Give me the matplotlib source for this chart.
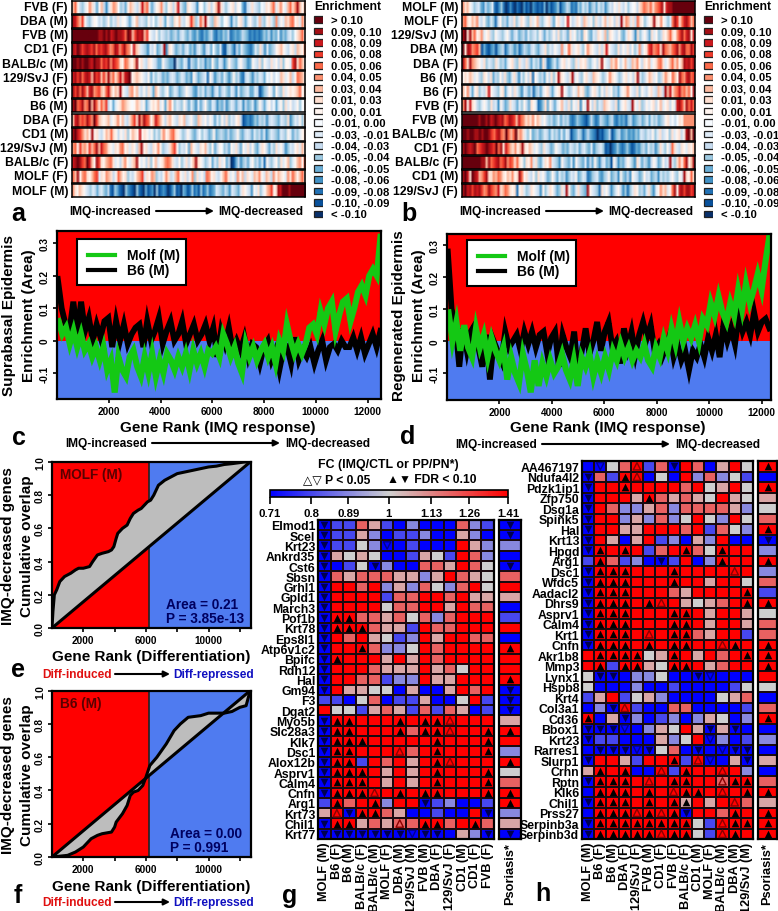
import matplotlib
matplotlib.use('Agg')
import matplotlib.pyplot as plt
from matplotlib.colors import LinearSegmentedColormap, LogNorm, to_rgb
from matplotlib.cm import ScalarMappable
from matplotlib.patches import FancyArrowPatch, Rectangle
import numpy as np

W, H = 778, 912

plt.rcParams['font.family'] = ['Liberation Sans', 'DejaVu Sans']
plt.rcParams['font.weight'] = 'bold'
plt.rcParams['axes.linewidth'] = 1.6

# strip heatmaps: a = below -0.10 ... r = above 0.10
enrich_colors = ['#08306b', '#08519c', '#2171b5', '#4292c6', '#6baed6', '#9ecae1', '#c6dbef', '#deebf7', '#f7fbff',
                 '#fff5f0', '#fee0d2', '#fcbba1', '#fc9272', '#fb6a4a', '#ef3b2c', '#cb181d', '#a50f15', '#67000d']
enrich_labels = ['> 0.10', '0.09, 0.10', '0.08, 0.09', '0.06, 0.08', '0.05, 0.06', '0.04, 0.05', '0.03, 0.04',
                 '0.01, 0.03', '0.00, 0.01', '-0.01, 0.00', '-0.03, -0.01', '-0.04, -0.03', '-0.05, -0.04',
                 '-0.06, -0.05', '-0.08, -0.06', '-0.09, -0.08', '-0.10, -0.09', '< -0.10']

a_names = ['FVB (F)', 'DBA (M)', 'FVB (M)', 'CD1 (F)', 'BALB/c (M)', '129/SvJ (F)', 'B6 (F)', 'B6 (M)', 'DBA (F)',
           'CD1 (M)', '129/SvJ (M)', 'BALB/c (F)', 'MOLF (F)', 'MOLF (M)']
a_strips = [
    'lnjgfhjmkhejlgdhkmlifgejlkhgkplnhegjkmhfjkgkphfekjhgdjifhkgjlqkhfhjkgjiecghkhgfihkjlnhkmjhlnkmqljl',
    'qpnlojgfhjighfgjfhgkhjigehjlghgfjgifhkhejgfkjlhgjkolfhnkqjgflkhfijgdhfjkgehjgfhlgfjkhfmgjhlkmnjkhmk',
    'rrrrrrrrrrrqqrqrpqrqqpnrqloqpqlojhgjfhgfgefgeghfegedfdcedfgdcedfegcdedegfecdcdcdfegdfehdfeghfiklnj',
    'qprqopqpoqnpopqomnqpmoqnmjplkhgfdhgjefhqdkjgefgeghefdghfdgheifehcbfgecgehfedcehfkgdhefgjkljhgjkglkjm',
    'rrqrqrrqprqqnpoqmponkjnmkjlqjkhgkjhgeejgfeeagfehgcgfehfgdfejfehgdfjgfehjgfdejhgkfjhgkhjgkfjjhoqknlj',
    'pqoqnpqplqoplolqlnkmplpqrjklkjhgjehfhgefeghgefhgefdjgefghcjgdfgehfdfjfgdcghfdgfhgeihjgihlkhjlgjnmlj',
    'qoqnqolpqmnolknpljlkqjhglmjlhgjgkheljgfhjefhgefgjhgedgfhegfdgheghfehgdhefgheehgbdfgjhejgfkhjkjklnjk',
    'qrnoqmnrlqnknlogiehjkmlkjijlkhjegjkjlhjekmjfhgfjgehfdhegjfehgdfegdfhgeghdgefhdfjgehjgiehjfkhjghjfij',
    'lpqnonqomrolkjklhjkmjlhgkmokqmqonjlpnljgkljhgkjlghjgflkhjgjhehfjgkfhgjkgbcdcdfegfgdghgfehgfkdfhgjfk',
    'qrpomkljqjkhgjlknkjgjhkfjlkjpjkjhjfhfkmjkmnkjhfgjhfegifhgefjefgfegefgjfeghgehfgehdfhgfehgfjhegfhjk',
    'mnjolmkolnqlpnmkjhkjmnjkhkjglqjkhgkjmjfghkmojfhgjeljhgkjlhfjegjifgejhkgejhkgjfehkjgehfkhjgdfhgjkhlj',
    'pqrqonrpljqokjlmnkhjgkmjhklqjhjgkfjlhjkmnmkhgjfhkgjlqkjhfgjehfkhjegabegdfgehjfgehcjgfhjfkhjlfhjlmjn',
    'nlqjmnkjlnohkjmlkgjnljkfhgjlmohkjmlfhgjmkghlnjhkgjmfkhjgnmjkhgjlnkhjgmjlgkjhlkmjhlkgmjlkjhmknljlnk',
    'mkjlkjhgfhgeghfegcbfecbafdcbafcbaebcdafbcdcabdfbcaedbcfcdbfcdfcdehgfegfdhgfehkjhgdjhkfhjlmojkqprrrqrrrrrrr',
]

b_names = ['MOLF (M)', 'MOLF (F)', '129/SvJ (M)', 'DBA (M)', 'DBA (F)', 'B6 (M)', 'B6 (F)', 'FVB (F)', 'FVB (M)',
           'BALB/c (M)', 'CD1 (F)', 'BALB/c (F)', 'CD1 (M)', '129/SvJ (F)']
b_strips = [
    'mkljhfghedgefhcbdfcabdbacbadbcadcbcbeadbcdfbdegfcdcfehfgdfgehfgdfhgjhkhgjfhijgklnmlnkmnoqkpqqrrrrrrrrrr',
    'mnkjlkmhgjfehfcgjfgehgkfhkjgfkhjlgfhjkgejkhgjpjghkjglkhjfkhgjlhkjgkhqjmlhkgnkjfhjkqkjmjhfhnqoknpqoln',
    'qrkqlnjkmhjkgfjhgfhjgeghefgehfghfjgehfgjgkfhgekhjfgekjfehgkjhlfkjhgjfehkjgdkfhjgekhjfgkjlnkjmoqnpqkp',
    'rkqpmnolbecbdebefgcegfdfcegfeghfeghkfhgjhgmhjnkhjkhfjmkjhgkgkpjhgfkgjhkgjfhmgjkopmnokqnmlnoqmpqnnqo',
    'qnkqmlkjhkfhgfkhfgehjkgfkhgkgehfgdkgcdfhegjkhjgfkhkjkgfhjgkqjhglkmjgjlhglkmjgkjlhjkmnkhjlnkmjlqpqoq',
    'jkjlkhjgfkjgkegfjgkfehkgdhfjgkcjhfgejgkfjqkjhgkqhjgfjkhglkjhfgjmkjhfgjkhjgkqhfgjlkhjfgkmkjnljqnmpqno',
    'ljmhejkfhgkpjhgfjkehjgkhfdhgegcfgehjkgehjkqjhfgjhljkfegjkhfjgkhjfgehjkmjhgkfjhgjkhglkgqlpkmnpmnlnjq',
    'mqjpkjgfhjhfkghdjgefkhgehfjgekjhcdfkejgehjlhgkfjhkdjhqjgkfhglkjhgkehjkhgqjhkfgjhjkgjlhjkgjhpqolqnpn',
    'rrrrrrrqrrqrpqrqpqnoqpolpnmklkmjlkhjgfgefhegfgdcdfedcbdgecdgfedfgdcedecfgdefgefhehfgefgjkhigikjmmmmm',
    'rrqrrqqrqrrqonpqnmrnlnrlmkhfjefgefhgehfgehehgbdegfcegedcacbdegbdfgdefdedfehgfhgjfhkghjfkhjkgjqrlr',
    'qrqpqrnopqrqpornqkpnlkmjlqkjlkhjgfkhgefjhgefehgfheghfehdfghfbcacdfdcdfdbcedfgehfgdfkhfjgnkhgkjhkjl',
    'rrrrrrrrqqlqnopqnoqmonknkjfkjmhkfehkjmhgfdjgfehdjgfehdgejfdghefbjgdfegjhfdkhegfdgjhefjghqhfkmjnqjlq',
    'qrpkrqplmoqkkmlnmkjlkmjkqnjkhgjfkhjgefjgehfgdfhgjefhgcdfghedfgjefgdjfegdjhgefjghefgdhfgfhjgfjhqkjnk',
    'qrpqoqpqomnqonmpklnmkjkcjkhfgkjhgdjfhkjgefkhqjfehkgfeqjhgfckhjgdfhjgdfcfhkjfgehkfdhjmklhjnqjpqoqqop',
]

# running enrichment, one value per rank bin
c_b6 = [0.19, 0.10, 0.05, 0.03, 0.12, 0.02, 0.12, 0.03, 0.07, 0.0, 0.05, 0.01, 0.06, 0.07, -0.02, 0.06, 0.0, 0.05,
        -0.01, 0.02, 0.04, 0.05, -0.02, 0.06, 0.0, 0.03, 0.07, -0.01, 0.03, 0.06, 0.0, 0.02, 0.06, -0.01, 0.02, 0.05,
        0.0, 0.02, 0.05, 0.0, 0.04, -0.05, 0.03, -0.01, 0.04, -0.03, 0.0, -0.03, 0.01, -0.05, -0.01, -0.02, -0.07,
        -0.02, 0.0, -0.06, -0.03, -0.09, -0.03, -0.02, -0.07, 0.01, -0.06, -0.03, -0.05, -0.02, -0.07, -0.03, 0.0,
        -0.06, -0.02, -0.01, -0.03, 0.0, -0.02, -0.02, 0.01, -0.03, 0.01, -0.04, -0.01, 0.02, -0.02, 0.03]
c_molf = [0.06, 0.02, 0.04, -0.01, 0.03, -0.02, 0.02, -0.03, -0.01, -0.05, -0.02, -0.06, -0.02, -0.09, -0.06, -0.16,
          -0.05, -0.09, -0.11, -0.05, -0.03, -0.08, -0.11, -0.05, -0.10, -0.04, -0.11, -0.06, -0.10, -0.04, -0.06,
          -0.09, -0.05, -0.08, -0.04, -0.09, -0.03, -0.07, -0.04, -0.08, -0.03, -0.04, -0.02, -0.05, 0.02, -0.01,
          -0.05, -0.02, -0.07, -0.10, -0.01, -0.05, -0.02, -0.06, -0.03, -0.01, -0.05, -0.02, -0.07, 0.0, -0.03, 0.05,
          0.0, -0.04, -0.01, -0.04, -0.01, 0.04, 0.05, 0.02, 0.09, 0.05, 0.10, 0.12, 0.03, 0.08, 0.12, 0.13, 0.06, 0.10,
          0.15, 0.17, 0.14, 0.20, 0.22, 0.20, 0.32]
d_b6 = [0.28, 0.10, 0.05, -0.08, 0.04, -0.03, 0.03, 0.05, -0.02, -0.08, 0.02, -0.12, 0.0, -0.03, -0.06, 0.03, -0.02,
        0.0, 0.02, -0.03, 0.03, -0.01, 0.03, -0.02, 0.02, 0.03, -0.04, 0.01, 0.03, -0.08, 0.02, -0.02, -0.05, 0.03,
        -0.10, -0.03, 0.04, -0.04, 0.0, 0.06, -0.03, 0.03, 0.06, -0.02, 0.0, -0.07, 0.04, -0.02, 0.03, -0.04, 0.02,
        0.06, 0.01, 0.05, -0.03, -0.01, -0.05, -0.02, 0.02, -0.05, -0.01, -0.06, -0.03, -0.09, -0.03, -0.05, -0.01,
        -0.05, 0.01, -0.03, 0.02, -0.05, 0.05, 0.0, 0.04, -0.01, 0.08, 0.03, 0.06, 0.02, 0.09, 0.03, 0.06, 0.07, 0.04]
d_molf = [0.09, 0.0, 0.06, -0.03, 0.05, -0.02, -0.05, 0.04, -0.02, 0.02, -0.05, 0.01, -0.03, -0.06, -0.02, -0.12,
          -0.05, -0.10, -0.13, -0.04, -0.09, -0.16, -0.06, -0.14, -0.07, -0.11, -0.06, -0.10, -0.08, -0.04, -0.09,
          -0.12, -0.06, -0.14, -0.05, -0.08, -0.04, -0.11, -0.06, -0.10, -0.05, -0.09, -0.03, -0.06, -0.01, -0.05,
          -0.02, -0.06, -0.03, -0.05, -0.01, -0.06, -0.08, -0.02, -0.05, 0.01, -0.03, 0.04, -0.01, 0.06, 0.0, 0.04, 0.01,
          0.05, 0.0, 0.07, 0.05, 0.12, 0.08, 0.14, 0.09, 0.06, 0.12, 0.08, 0.16, 0.10, 0.18, 0.12, 0.16, 0.21, 0.16, 0.25, 0.33]

# cumulative overlap curves
e_rank = [0, 60, 150, 300, 500, 700, 800, 1000, 1200, 1500, 1700, 2000, 2400, 2600, 2900, 3200, 3600, 3800, 3950, 4100,
          4200, 4500, 4800, 5000, 5200, 5500, 5700, 6100, 6300, 6500, 6800, 7200, 7600, 8000, 8500, 9000, 9500, 10000,
          10500, 11000, 11500, 12300, 12660]
e_overlap = [0, 0.10, 0.20, 0.23, 0.28, 0.30, 0.31, 0.32, 0.33, 0.35, 0.36, 0.36, 0.37, 0.40, 0.44, 0.45, 0.46, 0.47,
             0.49, 0.54, 0.57, 0.60, 0.62, 0.66, 0.69, 0.71, 0.72, 0.76, 0.77, 0.80, 0.86, 0.89, 0.91, 0.93, 0.94, 0.95,
             0.96, 0.97, 0.975, 0.985, 0.99, 1.0, 1.0]
f_rank = [0, 1000, 1500, 2000, 2300, 2500, 2900, 3200, 3800, 4000, 4100, 4500, 4800, 5000, 5200, 5500, 5800, 6000, 6250,
          6700, 7000, 7300, 7800, 8200, 8700, 9500, 10000, 11000, 11500, 12000, 12400, 12660]
f_overlap = [0, 0.01, 0.03, 0.06, 0.09, 0.11, 0.13, 0.14, 0.15, 0.18, 0.21, 0.26, 0.31, 0.37, 0.39, 0.40, 0.43, 0.48, 0.55,
             0.60, 0.64, 0.68, 0.76, 0.80, 0.84, 0.85, 0.865, 0.865, 0.875, 0.90, 0.91, 1.0]

# fold change levels of the heat maps
fc_levels = {'B': 0.71, 'm': 0.80, 'l': 0.89, 'g': 1.0, 'p': 1.07, 'r': 1.2, 'R': 1.41}
fc_ticks = [0.71, 0.8, 0.89, 1, 1.13, 1.26, 1.41]

g_genes = ['Elmod1', 'Scel', 'Krt23', 'Ankrd35', 'Cst6', 'Sbsn', 'Grhl1', 'Gpld1', 'March3', 'Pof1b', 'Krt78', 'Eps8l1',
           'Atp6v1c2', 'Bpifc', 'Rdh12', 'Hal', 'Gm94', 'F3', 'Dgat2', 'Myo5b', 'Slc28a3', 'Klk7', 'Dsc1', 'Alox12b',
           'Asprv1', 'Calm4', 'Cnfn', 'Arg1', 'Krt73', 'Chil1', 'Krt77']
g_strains = ['MOLF (M)', 'B6 (F)', 'B6 (M)', 'BALB/c (F)', 'BALB/c (M)', 'MOLF (F)', 'DBA (M)', '129/SvJ (M)', 'FVB (M)',
             'DBA (F)', '129/SvJ (F)', 'CD1 (M)', 'CD1 (F)', 'FVB (F)']
# 14 strains, then psoriasis
g_fc = ['BmmrpmBlBBBrlmB', 'BmmplBmmlBBplBB', 'BmmglBBmBBBRpll', 'BpgpgBBmpgmRrlB', 'BBmgBlBBrrpRrgB', 'BrprrrpplpRrpgr',
        'BRRrRlplrglrRgR', 'BRRRRmrrRRrRppp', 'BRRRRgrrRRpRrrB', 'BRRrrprgrlrRRRm', 'BRRRrppmRrrRRRR', 'BRrRpgmlRpRRrrB',
        'BRRRrllgRrRRRRR', 'BRRRRpRpRrRRRRR', 'BRRRrpppRprgRRR', 'BRRrrmllRppRRRR', 'BRppggBpBBpRrRB', 'mmBgrBmmpBBgRmB',
        'RggmprpmrmrpBmB', 'BRRRRRRRRRRRRRp', 'BRRRRRRrRRRRRRR', 'BRRRRRRRRRRRRRR', 'BRRRRRRrRRRRRRl', 'BRRmRrRpRRRRRRR',
        'BRRRRpRpRRRRRRg', 'BRRRRpRpRRRRRRr', 'BRRRRRRRRRRRRRR', 'mRrRRlRRBmlBBmR', 'pRBRRrpBBmBBRBl', 'BRRprprrRRrRRrp',
        'BBBBBBBBBBBplBB']
g_sig = ['D.............D', 'D.............D', 'D....d.........', 'D..............', 'D...D.........D', 'D..............',
         'D..............', 'D..............', 'D..............', 'DUU............', 'DUUU...........', 'D..............',
         'D..U..........U', 'DU.............', 'D..............', 'D.............U', 'D.............D', '..............D',
         '..............D', 'DUU...U.UUu....', 'DUU...U.UUu..UU', 'DUUU.....U...U.', 'DUU...u..U...U.', 'DUU......Uu...U',
         'DUUU.....U...U.', 'DUUU.....U...U.', 'DUUUu.U.UU...UU', '.U..U...D.....U', '.uDUU........D.', 'DUU...u.UU..U..',
         'DDDDDDDdDD...DD']

h_genes = ['AA467197', 'Ndufa4l2', 'Pdzk1ip1', 'Zfp750', 'Dsg1a', 'Spink5', 'Hal', 'Krt13', 'Hpgd', 'Arg1', 'Dsc1', 'Wfdc5',
           'Aadacl2', 'Dhrs9', 'Asprv1', 'Calm4', 'Krt1', 'Cnfn', 'Akr1b8', 'Mmp3', 'Lynx1', 'Hspb8', 'Krt4', 'Col3a1', 'Cd36',
           'Bbox1', 'Krt23', 'Rarres1', 'Slurp1', 'Crnn', 'Rptn', 'Klk6', 'Chil1', 'Prss27', 'Serpinb3a', 'Serpinb3d']
h_strains = ['MOLF (M)', 'B6 (F)', 'B6 (M)', 'DBA (F)', '129/SvJ (F)', 'FVB (M)', 'CD1 (F)', 'FVB (F)', 'BALB/c (F)',
             'CD1 (M)', 'MOLF (F)', 'BALB/c (M)', 'DBA (M)', '129/SvJ (M)']
h_fc = ['BBgrRmrBRrBpRgR', 'BrmRRBgBRlrlgmB', 'BRRRRRRRrRgpRgR', 'BRRRpRrprpgRpgp', 'BRrllprlrrrrplg', 'BRRlplrlgRglRgr',
        'BRRppRRRrRmrglR', 'BRpBpRmlBplRBBB', 'BRRRRmrRRrgRRRl', 'mRrmlBBmRBlRRRR', 'BRRRRRRRRRRRRRl', 'BRRRRRRRRRpRRgr',
        'BRRRRRRrpRRRRRm', 'BRRRRRRRpgprRRR', 'BRRRRRRRRRpRRpg', 'BRRRRRRRRRpRRpr', 'BRRRRRRRRrpRRmr', 'BRRRRRRRRRRRRRR',
        'RRRRRgpRRpRrRRR', 'RRmRRpgRRRprRRR', 'gBBBllgBBBBBBBR', 'gBBBlBBmBBBBmgg', 'mpRmgplBBBBgprB', 'BlBRmBBrrBBBBmr',
        'RBpBlBmlBlpgBlR', 'BBBBBlpgRpBpBBB', 'BmmBBBplgRBlBml', 'BBBBBBgrBBBBBBB', 'BRRpmRRRmRBBpBp', 'pRRRBBRmRRRRRlB',
        'BRRRRRRRRRRrRRr', 'BRRRRRRRRRRRRRR', 'BRRRRRRRpRpRRrp', 'BRRRRRRRBRRrRRR', 'BRRRRRRRRgmRRRR', 'BRRRRRRRRgmRRRR']
h_sig = ['.d..u..D......U', 'D..Uu..........', 'D..U..........U', 'D....U.........', 'D..............', 'D..............',
         'D.............U', 'D.............D', 'DU.U....U..U...', '.U....D....U..U', 'DUUU...U....u..', 'DUUU...U.......',
         'DUUU.........U.', 'DUUU.Uu......UU', 'DUUU...UU......', 'DUUU...UU......', 'DUUU.u.UU......', 'DUUU.U.UU..uU.U',
         '.UUUU..U.....UU', '.U.UU..UU.....U', '.DD......Dd....', '...............', '...............', '..Du...........',
         'U..D..........U', 'DDDd......D.D..', 'D.........d....', '.DDDdD...D.dDD.', 'D......U.ud..D.', '.U.U..u.U..u...',
         'DUUU.u.UU..uUU.', '.UUU.U.uUU.u.UU', 'DUUU.U.UU...u..', '.UUUuUuUD...U.U', 'DUUUUUUUU..uUUU', 'DUUUUUuUU..uU.U']

fig = plt.figure(figsize=(W / 100, H / 100), dpi=100, facecolor='white')


def ax_px(x0, y0, x1, y1, **kw):
    return fig.add_axes([x0 / W, 1 - y1 / H, (x1 - x0) / W, (y1 - y0) / H], **kw)


def txt(x, y, s, size=9, ha='left', va='center', rot=0, color='black', **kw):
    return fig.text(x / W, 1 - y / H, s, fontsize=size, ha=ha, va=va, rotation=rot, color=color, **kw)


def arrow(x0, x1, y):
    fig.add_artist(FancyArrowPatch((x0 / W, 1 - y / H), (x1 / W, 1 - y / H), transform=fig.transFigure,
                                   arrowstyle='-|>', mutation_scale=9, lw=1.5, color='black', shrinkA=0, shrinkB=0))


def strip_panel(names, strips, x0, x1):
    rgb = {chr(ord('a') + i): to_rgb(c) for i, c in enumerate(enrich_colors)}
    for i, (name, s) in enumerate(zip(names, strips)):
        y = 1.7 + i * 14.1
        ax = ax_px(x0, y, x1, y + 13)
        ax.imshow(np.array([[rgb[c] for c in s]]), aspect='auto', interpolation='bilinear')
        ax.set_xticks([])
        ax.set_yticks([])
        for sp in ax.spines.values():
            sp.set_linewidth(1.1)
        txt(x0 - 4, y + 6.5, name, size=8.8, ha='right')
    # legend
    txt(x1 + 43, 7, 'Enrichment', size=8.7, ha='center')
    ax = ax_px(x1 + 8, 15, x1 + 18, 221)
    ax.set_xlim(0, 1)
    ax.set_ylim(221, 15)
    ax.axis('off')
    for i, lab in enumerate(enrich_labels):
        yc = 20.7 + i * 11.43
        ax.add_patch(Rectangle((0.05, yc - 3.3), 0.9, 6.6, fc=enrich_colors[17 - i], ec='#222222', lw=0.9))
        txt(x1 + 26, yc, lab, size=8.1)
    txt(x0 - 3, 212, 'IMQ-increased', size=8.6)
    arrow(x0 + 84, x0 + 142, 212)
    txt(x0 + 146, 212, 'IMQ-decreased', size=8.6)


strip_panel(a_names, a_strips, 72, 305)
strip_panel(b_names, b_strips, 462, 695)
txt(18, 214, 'a', size=18, ha='center')
txt(409, 214, 'b', size=18, ha='center')


def enrich_panel(x0, y0, x1, y1, b6, molf, xmax, ylim, xend, legend_y):
    ax = ax_px(x0, y0, x1, y1)
    ax.set_xlim(0, xmax)
    ax.set_ylim(*ylim)
    ax.axhspan(0, ylim[1], color='#ff0000', lw=0)
    ax.axhspan(ylim[0], 0, color='#4f7bf0', lw=0)
    ax.plot(np.linspace(30, xend, len(b6)), b6, color='black', lw=4.2, solid_joinstyle='miter')
    ax.plot(np.linspace(60, xend, len(molf)), molf, color='#14c814', lw=4.4, solid_joinstyle='miter')
    ax.set_xticks(range(2000, 12001, 2000))
    ax.set_yticks([-0.1, 0, 0.1, 0.2, 0.3])
    ax.set_yticklabels(['-0.1', '0', '0.1', '0.2', '0.3'])
    ax.tick_params(labelsize=7.2, width=1.2, length=3, pad=2)
    for t in ax.get_yticklabels():
        t.set_rotation(90)
        t.set_va('center')
    ax.add_patch(Rectangle((20 / (x1 - x0), 1 - (legend_y + 46 - y0) / (y1 - y0)), 109 / (x1 - x0),
                           46 / (y1 - y0), transform=ax.transAxes, fc='white', ec='black', lw=1.5, zorder=5))
    for dy, col, lab in [(16, '#14c814', 'Molf (M)'), (31, 'black', 'B6 (M)')]:
        yy = 1 - (legend_y + dy - y0) / (y1 - y0)
        ax.plot([31 / (x1 - x0), 58 / (x1 - x0)], [yy, yy], color=col, lw=3, transform=ax.transAxes, zorder=6)
        ax.text(70 / (x1 - x0), yy, lab, transform=ax.transAxes, fontsize=10, va='center', zorder=6)
    return ax


enrich_panel(57, 232, 381, 400, c_b6, c_molf, 12520, (-0.18, 0.338), 12500, 240)
enrich_panel(447, 235, 771, 400.7, d_b6, d_molf, 12360, (-0.183, 0.335), 12300, 241)
txt(9, 316, 'Suprabasal Epidermis', size=11, ha='center', rot=90)
txt(29, 316, 'Enrichment (Area)', size=11, ha='center', rot=90)
txt(399, 316, 'Regenerated Epidermis', size=11, ha='center', rot=90)
txt(419, 316, 'Enrichment (Area)', size=11, ha='center', rot=90)
txt(218, 428, 'Gene Rank (IMQ response)', size=11, ha='center')
txt(608, 428, 'Gene Rank (IMQ response)', size=11, ha='center')
txt(19, 438, 'c', size=18, ha='center')
txt(408, 437, 'd', size=18, ha='center')
txt(65, 444, 'IMQ-increased', size=8.6)
arrow(152, 280, 444)
txt(285, 444, 'IMQ-decreased', size=8.6)
txt(455, 445, 'IMQ-increased', size=8.6)
arrow(542, 670, 445)
txt(675, 445, 'IMQ-decreased', size=8.6)


def overlap_panel(y0, y1, rank, overlap, name, area, pval, text_x):
    ax = ax_px(52, y0, 251, y1)
    gene_n = 12660
    ax.set_xlim(0, 12713)
    ax.set_ylim(0, 1)
    ax.axvspan(0, 6218, color='#ff0000', lw=0)
    ax.axvspan(6218, 12713, color='#4f7bf0', lw=0)
    ax.axvline(6218, color='#222222', lw=1.2)
    xs = np.arange(0, gene_n + 1, 20)
    ys = np.interp(xs, rank, overlap)
    ax.fill_between(xs, ys, xs / gene_n, color='#bdbdbd', lw=0, zorder=2)
    ax.plot([0, gene_n], [0, 1], color='black', lw=2.2, zorder=3)
    ax.plot(rank, overlap, color='black', lw=2.2, zorder=3)
    ax.set_xticks(range(2000, 12001, 2000))
    ax.set_xticklabels(['2000', '', '6000', '', '10000', ''])
    ax.set_yticks([0, 0.2, 0.4, 0.6, 0.8, 1.0])
    ax.tick_params(labelsize=7.2, width=1.2, length=3, pad=2)
    for t in ax.get_yticklabels():
        t.set_rotation(90)
        t.set_va('center')
    ax.text(0.04, 0.925, name, transform=ax.transAxes, color='#5a0000', fontsize=9.8, va='center')
    ax.text(text_x, 0.145, area, transform=ax.transAxes, color='#000060', fontsize=9.8, va='center')
    ax.text(text_x, 0.06, pval, transform=ax.transAxes, color='#000060', fontsize=9.8, va='center')
    return ax


overlap_panel(463, 629, e_rank, e_overlap, 'MOLF (M)', 'Area = 0.21', 'P = 3.85e-13', 0.575)
overlap_panel(691.7, 858, f_rank, f_overlap, 'B6 (M)', 'Area = 0.00', 'P = 0.991', 0.595)
for yc, yx, yd in [(546, 657, 675), (775, 887, 903)]:
    txt(8, yc, 'IMQ-decreased genes', size=11, ha='center', rot=90)
    txt(27, yc, 'Cumulative overlap', size=11, ha='center', rot=90)
    txt(151, yx, 'Gene Rank (Differentiation)', size=11, ha='center')
    txt(42, yd, 'Diff-induced', size=8.6, color='#e01010')
    arrow(115, 170, yd)
    txt(173, yd, 'Diff-repressed', size=8.6, color='#1010c0')
txt(18, 670, 'e', size=18, ha='center')
txt(18, 896, 'f', size=18, ha='center')

# fold change colour bar
fc_cmap = LinearSegmentedColormap.from_list('fc', ['#0000ff', '#cfcfcf', '#ff0000'])
fc_norm = LogNorm(0.71, 1.41)
cax = ax_px(270, 491, 508, 498)
cb = fig.colorbar(ScalarMappable(norm=fc_norm, cmap=fc_cmap), cax=cax, orientation='horizontal')
cb.set_ticks(fc_ticks)
cb.set_ticklabels(['0.71', '0.8', '0.89', '1', '1.13', '1.26', '1.41'])
cb.minorticks_off()
cax.tick_params(labelsize=8.2, width=1.2, length=5, pad=3)
cb.outline.set_linewidth(1.2)
txt(388, 465, 'FC (IMQ/CTL or PP/PN*)', size=8.9, ha='center')
txt(303, 480, '△▽ P < 0.05', size=8.7)
txt(387, 480, '▲▼ FDR < 0.10', size=8.7)


def sig_marks(ax, fc_rows, sig_rows):
    for r, (lv, sg) in enumerate(zip(fc_rows, sig_rows)):
        for c, m in enumerate(sg[:len(lv)]):
            if m == '.':
                continue
            blue = lv[c] in 'Bm'
            dark = '#000050' if blue else 'black'
            edge = '#000090' if blue else '#8a0000'
            marker = '^' if m in 'Uu' else 'v'
            if m in 'UD':
                ax.scatter(c + 0.5, r + 0.5, marker=marker, s=30, color=dark, lw=0, zorder=4)
            else:
                ax.scatter(c + 0.5, r + 0.5, marker=marker, s=28, facecolor='none', edgecolor=edge, lw=1, zorder=4)


def fc_panel(genes, strains, fc_rows, sig_rows, x0, x1, xp0, xp1, y0, y1):
    n = len(genes)
    vals = np.array([[fc_levels[c] for c in row] for row in fc_rows])
    ax = ax_px(x0, y0, x1, y1)
    ax.pcolormesh(vals[:, :14], cmap=fc_cmap, norm=fc_norm, edgecolors='#1a0a10', linewidth=1.1)
    ax.set_xlim(0, 14)
    ax.set_ylim(n, 0)
    sig_marks(ax, [r[:14] for r in fc_rows], [s[:14] for s in sig_rows])
    ax.set_xticks(np.arange(14) + 0.5)
    ax.set_xticklabels(strains, rotation=90, fontsize=9.2)
    ax.set_yticks(np.arange(n) + 0.5)
    ax.set_yticklabels(genes, fontsize=8.8)
    ax.tick_params(length=0, pad=2)
    ax2 = ax_px(xp0, y0, xp1, y1)
    ax2.pcolormesh(vals[:, 14:], cmap=fc_cmap, norm=fc_norm, edgecolors='#1a0a10', linewidth=1.1)
    ax2.set_xlim(0, 1)
    ax2.set_ylim(n, 0)
    sig_marks(ax2, [r[14:] for r in fc_rows], [s[14:] for s in sig_rows])
    ax2.set_xticks([0.5])
    ax2.set_xticklabels(['Psoriasis*'], rotation=90, fontsize=9.2)
    ax2.set_yticks([])
    ax2.tick_params(length=0, pad=2)


fc_panel(g_genes, g_strains, g_fc, g_sig, 318, 494, 499, 521, 520.7, 840)
fc_panel(h_genes, h_strains, h_fc, h_sig, 582, 753, 758, 777, 462, 840)
txt(290, 896, 'g', size=18, ha='center')
txt(543, 894, 'h', size=18, ha='center')

fig.savefig('out.png', dpi=100)
